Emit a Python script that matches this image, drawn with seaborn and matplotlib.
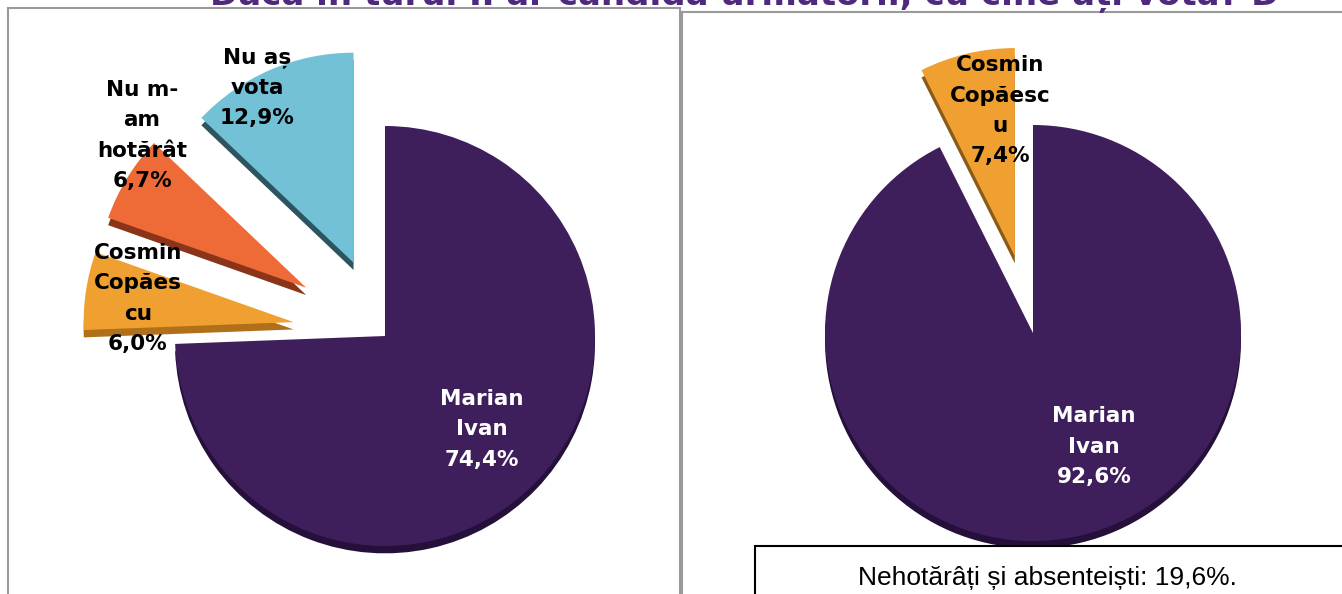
import numpy as np
import matplotlib.pyplot as plt
import seaborn as sns
from matplotlib.patches import Rectangle

sns.set_theme(style="white")
plt.rcParams['font.family'] = ['DejaVu Sans']

# date sondaj - turul I (toti respondentii)
labels_t1 = ['Marian\nIvan', 'Cosmin\nCopăes\ncu', 'Nu m-\nam\nhotărât', 'Nu aș\nvota']
values_t1 = [74.4, 6.0, 6.7, 12.9]
colors_t1 = ['#3f1f5b', '#f0a031', '#ee6a36', '#72c1d6']
dark_t1 = ['#24103a', '#b0701a', '#8a3519', '#2d5560']

# turul II (doar cei hotarati)
labels_t2 = ['Marian\nIvan', 'Cosmin\nCopăesc\nu']
values_t2 = [92.6, 7.4]
colors_t2 = ['#3f1f5b', '#f0a031']
dark_t2 = ['#24103a', '#8a5a18']

undecided = 19.6
title = 'Dacă în turul II ar candida următorii, cu cine ați vota? D'

W, H = 1342, 594
fig = plt.figure(figsize=(W / 100, H / 100), dpi=100)
fig.patch.set_facecolor('white')


def make_ax(x0, y0, x1, cx, cy, r):
    # panel in pixel coords, pie centre (cx, cy) and radius r in pixels
    ax = fig.add_axes([x0 / W, 0, (x1 - x0) / W, (H - y0) / H])
    ax.set_xlim((x0 - cx) / r, (x1 - cx) / r)
    ax.set_ylim((cy - H) / r, (cy - y0) / r)
    return ax


def draw_pie(ax, values, labels, colors, dark, explode, dist, shift, txtcol):
    depth = 0.035
    ax.pie(values, colors=dark, startangle=90, counterclock=False,
           explode=explode, center=(0, -depth), frame=True,
           wedgeprops=dict(linewidth=0))
    wedges, _ = ax.pie(values, colors=colors, startangle=90, counterclock=False,
                       explode=explode, frame=True,
                       wedgeprops=dict(linewidth=0))
    for w, lab, v, d, s, c in zip(wedges, labels, values, dist, shift, txtcol):
        ang = np.deg2rad((w.theta1 + w.theta2) / 2 + s)
        txt = lab + '\n' + f'{v:.1f}'.replace('.', ',') + '%'
        ax.text(d * np.cos(ang), d * np.sin(ang), txt, ha='center', va='center',
                fontsize=15.5, fontweight='bold', color=c, linespacing=1.65,
                zorder=5)
    ax.set_xticks([])
    ax.set_yticks([])


# panou stanga
ax1 = make_ax(8, 8, 680, 385, 336, 210)
draw_pie(ax1, values_t1, labels_t1, colors_t1, dark_t1,
         explode=[0, 0.44, 0.44, 0.38],
         dist=[0.64, 1.19, 1.5, 1.33], shift=[0, 0, -8, 4],
         txtcol=['white', 'black', 'black', 'black'])

# panou dreapta
ax2 = make_ax(682, 12, 1344, 1033, 333, 208)
draw_pie(ax2, values_t2, labels_t2, colors_t2, dark_t2,
         explode=[0, 0.38],
         dist=[0.62, 1.08], shift=[15, -5],
         txtcol=['white', 'black'])

for ax, visible in [(ax1, ['top', 'left', 'right']), (ax2, ['top', 'left'])]:
    ax.set_aspect('auto')
    for name, sp in ax.spines.items():
        sp.set_visible(name in visible)
        sp.set_color('#9a9a9a')
        sp.set_linewidth(1.5)

# caseta cu nehotarati
fig.patches.append(Rectangle((755 / W, -0.05), 0.5, 0.05 + (H - 546) / H,
                             transform=fig.transFigure, facecolor='white',
                             edgecolor='black', linewidth=1.5, zorder=5))
fig.text(1047 / W, 1 - 578 / H,
         'Nehotărâți și absenteiști: ' + f'{undecided:.1f}'.replace('.', ',') + '%.',
         ha='center', va='center', fontsize=19, family='Liberation Sans',
         color='black', zorder=6)

# titlu (taiat in partea de sus, ca in original)
fig.text(745 / W, 1 - 5 / H, title, ha='center', va='baseline',
         fontsize=24.5, fontweight='bold', color='#4e2a7e')

fig.savefig('out.png', dpi=100)
